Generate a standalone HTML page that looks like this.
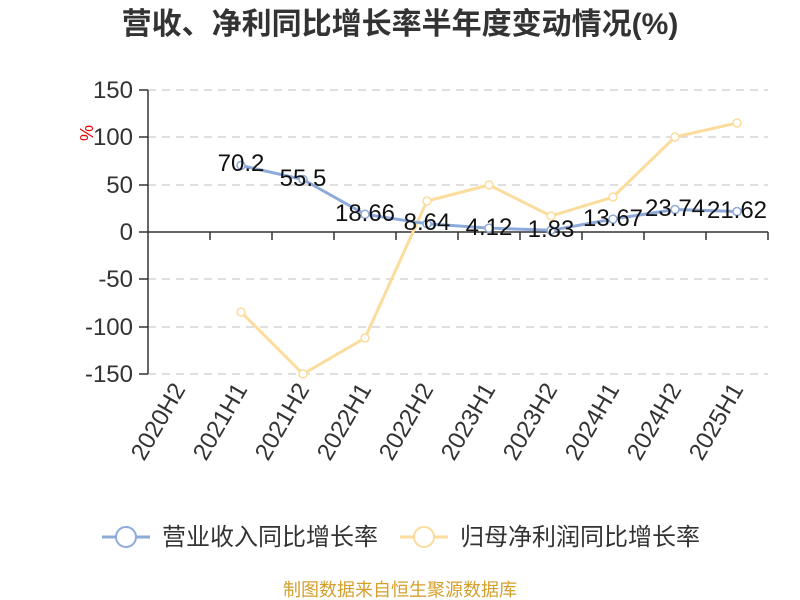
<!DOCTYPE html>
<html><head><meta charset="utf-8"><style>body{margin:0;background:#fff}svg{display:block}text{font-family:"Liberation Sans","Noto Sans CJK SC",sans-serif}</style></head><body>
<svg width="800" height="600" xmlns="http://www.w3.org/2000/svg">
<text x="400" y="34" text-anchor="middle" font-size="30" font-weight="bold" fill="#333">营收、净利同比增长率半年度变动情况(%)</text>
<g stroke="#ccc" stroke-width="1.2" stroke-dasharray="8,6">
<line x1="148" y1="90" x2="768" y2="90"/><line x1="148" y1="137" x2="768" y2="137"/><line x1="148" y1="185" x2="768" y2="185"/><line x1="148" y1="279" x2="768" y2="279"/><line x1="148" y1="327" x2="768" y2="327"/><line x1="148" y1="374" x2="768" y2="374"/>
</g>
<g stroke="#333" stroke-width="1.5">
<line x1="148" y1="90" x2="148" y2="374"/><line x1="148" y1="232" x2="768" y2="232"/>
<line x1="139" y1="90" x2="148" y2="90"/><line x1="139" y1="137" x2="148" y2="137"/><line x1="139" y1="185" x2="148" y2="185"/><line x1="139" y1="232" x2="148" y2="232"/><line x1="139" y1="279" x2="148" y2="279"/><line x1="139" y1="327" x2="148" y2="327"/><line x1="139" y1="374" x2="148" y2="374"/>
<line x1="210" y1="232" x2="210" y2="240"/><line x1="272" y1="232" x2="272" y2="240"/><line x1="334" y1="232" x2="334" y2="240"/><line x1="396" y1="232" x2="396" y2="240"/><line x1="458" y1="232" x2="458" y2="240"/><line x1="520" y1="232" x2="520" y2="240"/><line x1="582" y1="232" x2="582" y2="240"/><line x1="644" y1="232" x2="644" y2="240"/><line x1="706" y1="232" x2="706" y2="240"/><line x1="768" y1="232" x2="768" y2="240"/>
</g>
<g font-size="24" fill="#333" text-anchor="end">
<text x="133" y="98">150</text><text x="133" y="145">100</text><text x="133" y="193">50</text><text x="133" y="240">0</text><text x="133" y="287">-50</text><text x="133" y="335">-100</text><text x="133" y="382">-150</text>
</g>
<text transform="translate(93,133) rotate(-90)" text-anchor="middle" font-size="18" fill="#e00">%</text>
<g font-size="24" fill="#333" text-anchor="end">
<text transform="translate(186,389) rotate(-60)">2020H2</text>
<text transform="translate(248,389) rotate(-60)">2021H1</text>
<text transform="translate(310,389) rotate(-60)">2021H2</text>
<text transform="translate(372,389) rotate(-60)">2022H1</text>
<text transform="translate(434,389) rotate(-60)">2022H2</text>
<text transform="translate(496,389) rotate(-60)">2023H1</text>
<text transform="translate(558,389) rotate(-60)">2023H2</text>
<text transform="translate(620,389) rotate(-60)">2024H1</text>
<text transform="translate(682,389) rotate(-60)">2024H2</text>
<text transform="translate(744,389) rotate(-60)">2025H1</text>
</g>
<polyline fill="none" stroke="#fcdc9c" stroke-width="3" points="241,312 303,374 365,338 427,201 489,185 551,216 613,197 675,137 737,123"/>
<g fill="#fff" stroke="#fcdc9c" stroke-width="1.5">
<circle cx="241" cy="312" r="4"/><circle cx="303" cy="374" r="4"/><circle cx="365" cy="338" r="4"/><circle cx="427" cy="201" r="4"/><circle cx="489" cy="185" r="4"/><circle cx="551" cy="216" r="4"/><circle cx="613" cy="197" r="4"/><circle cx="675" cy="137" r="4"/><circle cx="737" cy="123" r="4"/>
</g>
<polyline fill="none" stroke="#8eaadb" stroke-width="3" points="241,165.5 303,179.5 365,214.3 427,223.8 489,228.1 551,230.3 613,219.1 675,209.5 737,211.5"/>
<g fill="#fff" stroke="#8eaadb" stroke-width="1.5">
<circle cx="241" cy="165.5" r="4"/><circle cx="303" cy="179.5" r="4"/><circle cx="365" cy="214.3" r="4"/><circle cx="427" cy="223.8" r="4"/><circle cx="489" cy="228.1" r="4"/><circle cx="551" cy="230.3" r="4"/><circle cx="613" cy="219.1" r="4"/><circle cx="675" cy="209.5" r="4"/><circle cx="737" cy="211.5" r="4"/>
</g>
<g font-size="24" fill="#111" text-anchor="middle">
<text x="241" y="171">70.2</text><text x="303" y="186">55.5</text><text x="365" y="221">18.66</text><text x="427" y="230">8.64</text><text x="489" y="235">4.12</text><text x="551" y="237">1.83</text><text x="613" y="226">13.67</text><text x="675" y="216">23.74</text><text x="737" y="218">21.62</text>
</g>
<line x1="102" y1="537" x2="150" y2="537" stroke="#8eaadb" stroke-width="3"/>
<circle cx="126" cy="537" r="10" fill="#fff" stroke="#8eaadb" stroke-width="2"/>
<text x="162" y="545" font-size="24" fill="#333">营业收入同比增长率</text>
<line x1="400" y1="537" x2="448" y2="537" stroke="#fcdc9c" stroke-width="3"/>
<circle cx="424" cy="537" r="10" fill="#fff" stroke="#fcdc9c" stroke-width="2"/>
<text x="460" y="545" font-size="24" fill="#333">归母净利润同比增长率</text>
<text x="400" y="596" text-anchor="middle" font-size="18" fill="#d4a02c">制图数据来自恒生聚源数据库</text>
</svg>
</body></html>
